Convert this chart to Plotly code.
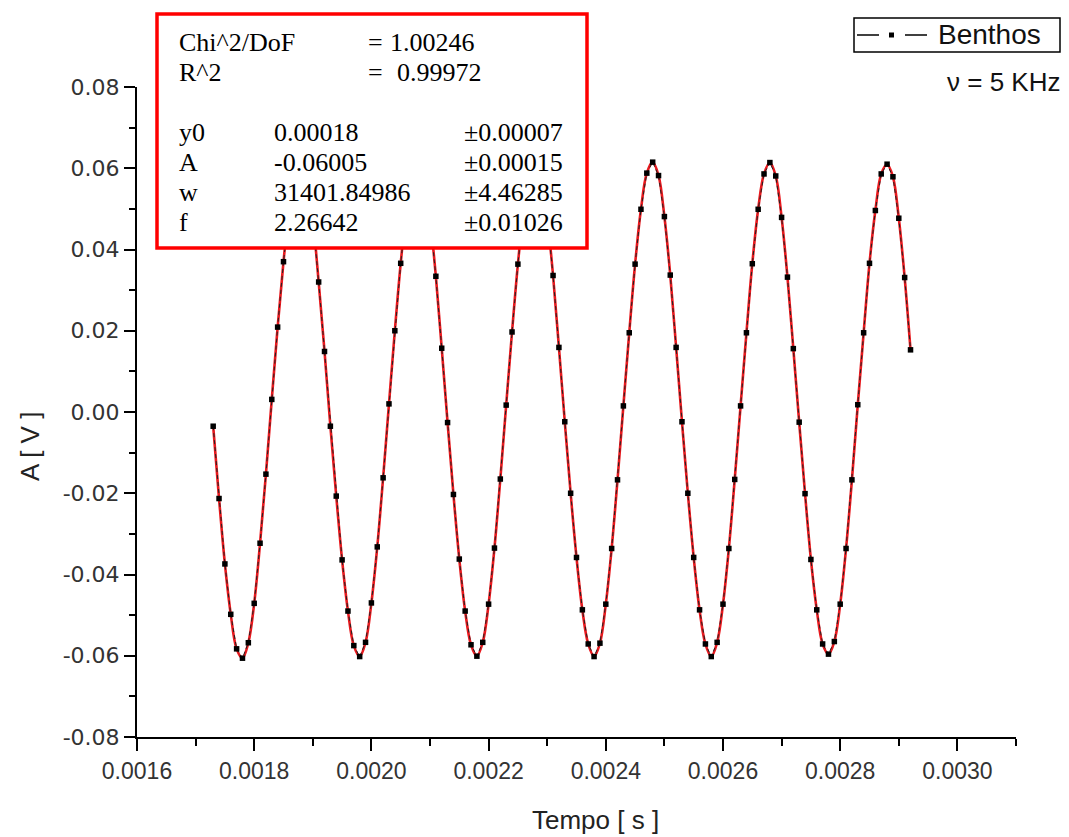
import plotly.graph_objects as go

# ---------------- data ----------------
time_s = [
    0.00173, 0.00174, 0.00175, 0.00176, 0.00177, 0.00178, 0.00179, 0.00180, 0.00181, 0.00182,
    0.00183, 0.00184, 0.00185, 0.00186, 0.00187, 0.00188, 0.00189, 0.00190, 0.00191, 0.00192,
    0.00193, 0.00194, 0.00195, 0.00196, 0.00197, 0.00198, 0.00199, 0.00200, 0.00201, 0.00202,
    0.00203, 0.00204, 0.00205, 0.00206, 0.00207, 0.00208, 0.00209, 0.00210, 0.00211, 0.00212,
    0.00213, 0.00214, 0.00215, 0.00216, 0.00217, 0.00218, 0.00219, 0.00220, 0.00221, 0.00222,
    0.00223, 0.00224, 0.00225, 0.00226, 0.00227, 0.00228, 0.00229, 0.00230, 0.00231, 0.00232,
    0.00233, 0.00234, 0.00235, 0.00236, 0.00237, 0.00238, 0.00239, 0.00240, 0.00241, 0.00242,
    0.00243, 0.00244, 0.00245, 0.00246, 0.00247, 0.00248, 0.00249, 0.00250, 0.00251, 0.00252,
    0.00253, 0.00254, 0.00255, 0.00256, 0.00257, 0.00258, 0.00259, 0.00260, 0.00261, 0.00262,
    0.00263, 0.00264, 0.00265, 0.00266, 0.00267, 0.00268, 0.00269, 0.00270, 0.00271, 0.00272,
    0.00273, 0.00274, 0.00275, 0.00276, 0.00277, 0.00278, 0.00279, 0.00280, 0.00281, 0.00282,
    0.00283, 0.00284, 0.00285, 0.00286, 0.00287, 0.00288, 0.00289, 0.00290, 0.00291, 0.00292,
]

amplitude_v = [
    -0.0035, -0.0213, -0.0374, -0.0498, -0.0583, -0.0606, -0.0568, -0.0471, -0.0323, -0.0153,
    0.0031, 0.0209, 0.0370, 0.0502, 0.0584, 0.0610, 0.0578, 0.0476, 0.0320, 0.0149,
    -0.0035, -0.0207, -0.0364, -0.0490, -0.0575, -0.0602, -0.0567, -0.0470, -0.0332, -0.0162,
    0.0020, 0.0200, 0.0366, 0.0500, 0.0584, 0.0611, 0.0579, 0.0478, 0.0334, 0.0157,
    -0.0026, -0.0203, -0.0362, -0.0490, -0.0573, -0.0601, -0.0567, -0.0473, -0.0335, -0.0165,
    0.0017, 0.0197, 0.0364, 0.0499, 0.0586, 0.0612, 0.0580, 0.0480, 0.0336, 0.0159,
    -0.0024, -0.0200, -0.0358, -0.0487, -0.0571, -0.0602, -0.0569, -0.0473, -0.0336, -0.0167,
    0.0015, 0.0195, 0.0364, 0.0499, 0.0588, 0.0615, 0.0582, 0.0481, 0.0337, 0.0159,
    -0.0024, -0.0200, -0.0358, -0.0487, -0.0571, -0.0602, -0.0567, -0.0473, -0.0336, -0.0166,
    0.0015, 0.0195, 0.0365, 0.0499, 0.0586, 0.0614, 0.0581, 0.0479, 0.0332, 0.0156,
    -0.0025, -0.0201, -0.0363, -0.0487, -0.0571, -0.0596, -0.0565, -0.0473, -0.0336, -0.0167,
    0.0018, 0.0195, 0.0366, 0.0496, 0.0586, 0.0610, 0.0579, 0.0477, 0.0331, 0.0153,
]

x_ticks = [0.0016, 0.0018, 0.0020, 0.0022, 0.0024, 0.0026, 0.0028, 0.0030]
x_tick_labels = ["0.0016", "0.0018", "0.0020", "0.0022", "0.0024", "0.0026", "0.0028", "0.0030"]
x_minor = [0.0017, 0.0019, 0.0021, 0.0023, 0.0025, 0.0027, 0.0029, 0.0031]
y_ticks = [-0.08, -0.06, -0.04, -0.02, 0.00, 0.02, 0.04, 0.06, 0.08]
y_tick_labels = ["-0.08", "-0.06", "-0.04", "-0.02", "0.00", "0.02", "0.04", "0.06", "0.08"]
y_minor = [-0.07, -0.05, -0.03, -0.01, 0.01, 0.03, 0.05, 0.07]

fit_rows = [
    ("y0", "0.00018", "\u00b10.00007"),
    ("A", "-0.06005", "\u00b10.00015"),
    ("w", "31401.84986", "\u00b14.46285"),
    ("f", "2.26642", "\u00b10.01026"),
]
fit_stats = [("Chi^2/DoF", "1.00246"), ("R^2", "0.99972")]

# ---------------- layout geometry ----------------
W, H = 1069, 837
L, R, T, B = 137, 1016, 87, 737


def px(x):
    return (x - L) / (R - L)


def py(y):
    return (B - y) / (B - T)


SANS = "Liberation Sans, Arial, sans-serif"
WIDE = "DejaVu Sans, Verdana, sans-serif"
SERIF = "Liberation Serif, Times New Roman, serif"

fig = go.Figure()
fig.add_trace(go.Scatter(
    x=time_s, y=amplitude_v, mode="lines",
    line=dict(color="#e8191e", width=2.6, shape="spline"),
    showlegend=False, hoverinfo="skip", name="fit"))
fig.add_trace(go.Scatter(
    x=time_s, y=amplitude_v, mode="lines+markers",
    line=dict(color="#222", width=1.0, dash="4px,3px"),
    marker=dict(symbol="square", size=5.5, color="black"),
    showlegend=False, name="Benthos"))

annotations = []
shapes = []

# fit results box
shapes.append(dict(type="rect", xref="paper", yref="paper",
                   x0=px(157), x1=px(587), y0=py(248), y1=py(14),
                   line=dict(color="#ff0000", width=3.5), fillcolor="white", layer="above"))


def txt(x, y, s, size, family, anchor="left", color="black"):
    annotations.append(dict(xref="paper", yref="paper", x=px(x), y=py(y), text=s,
                            showarrow=False, xanchor=anchor, yanchor="middle",
                            font=dict(size=size, family=family, color=color)))


stat_y = [42, 72]
stat_val_x = [388, 395]
for (lab, val), yy, vx in zip(fit_stats, stat_y, stat_val_x):
    txt(177, yy, lab, 26, SERIF)
    txt(366, yy, "=", 26, SERIF)
    txt(vx, yy, val, 26, SERIF)

row_y = [132, 162, 192, 222]
for (lab, val, err), yy in zip(fit_rows, row_y):
    txt(177, yy, lab, 26, SERIF)
    txt(272, yy, val, 26, SERIF)
    txt(462, yy, err, 26, SERIF)

# manual legend
shapes.append(dict(type="rect", xref="paper", yref="paper",
                   x0=px(854), x1=px(1060), y0=py(52), y1=py(18),
                   line=dict(color="black", width=1.5), fillcolor="white", layer="above"))
for a, b in [(857, 879), (905, 927)]:
    shapes.append(dict(type="line", xref="paper", yref="paper",
                       x0=px(a), x1=px(b), y0=py(35), y1=py(35),
                       line=dict(color="black", width=1.5), layer="above"))
shapes.append(dict(type="rect", xref="paper", yref="paper",
                   x0=px(889), x1=px(894), y0=py(37.5), y1=py(32.5),
                   line=dict(color="black", width=0), fillcolor="black", layer="above"))
txt(936, 35, "Benthos", 28, SANS, color="#111")
txt(1062, 82, "\u03bd = 5 KHz", 26, SANS, anchor="right", color="#111")

# axis titles
txt(595, 820, "Tempo [ s ]", 26, SANS, anchor="center", color="#222")
annotations.append(dict(xref="paper", yref="paper", x=px(30), y=py(447), text="A [ V ]",
                        showarrow=False, textangle=-90, xanchor="center", yanchor="middle",
                        font=dict(size=26, family=SANS, color="#222")))

fig.update_layout(
    width=W, height=H,
    margin=dict(l=L, r=W - R, t=T, b=H - B, pad=0),
    paper_bgcolor="white", plot_bgcolor="white",
    showlegend=False,
    annotations=annotations, shapes=shapes,
    xaxis=dict(range=[0.0016, 0.0031], tickvals=x_ticks, ticktext=x_tick_labels,
               showline=True, linecolor="black", linewidth=2,
               ticks="outside", ticklen=12, tickwidth=2, tickcolor="black",
               minor=dict(tickvals=x_minor, ticks="outside", ticklen=7, tickwidth=2, tickcolor="black"),
               showgrid=False, zeroline=False,
               tickfont=dict(family=SANS, size=23, color="#333")),
    yaxis=dict(range=[-0.08, 0.08], tickvals=y_ticks, ticktext=y_tick_labels,
               showline=True, linecolor="black", linewidth=2,
               ticks="outside", ticklen=11, tickwidth=2, tickcolor="black",
               minor=dict(tickvals=y_minor, ticks="outside", ticklen=6, tickwidth=2, tickcolor="black"),
               showgrid=False, zeroline=False,
               tickfont=dict(family=WIDE, size=22, color="#333")),
)

fig.write_html("out.html", config={"displayModeBar": False},
               post_script="document.body.style.margin='0px';")
